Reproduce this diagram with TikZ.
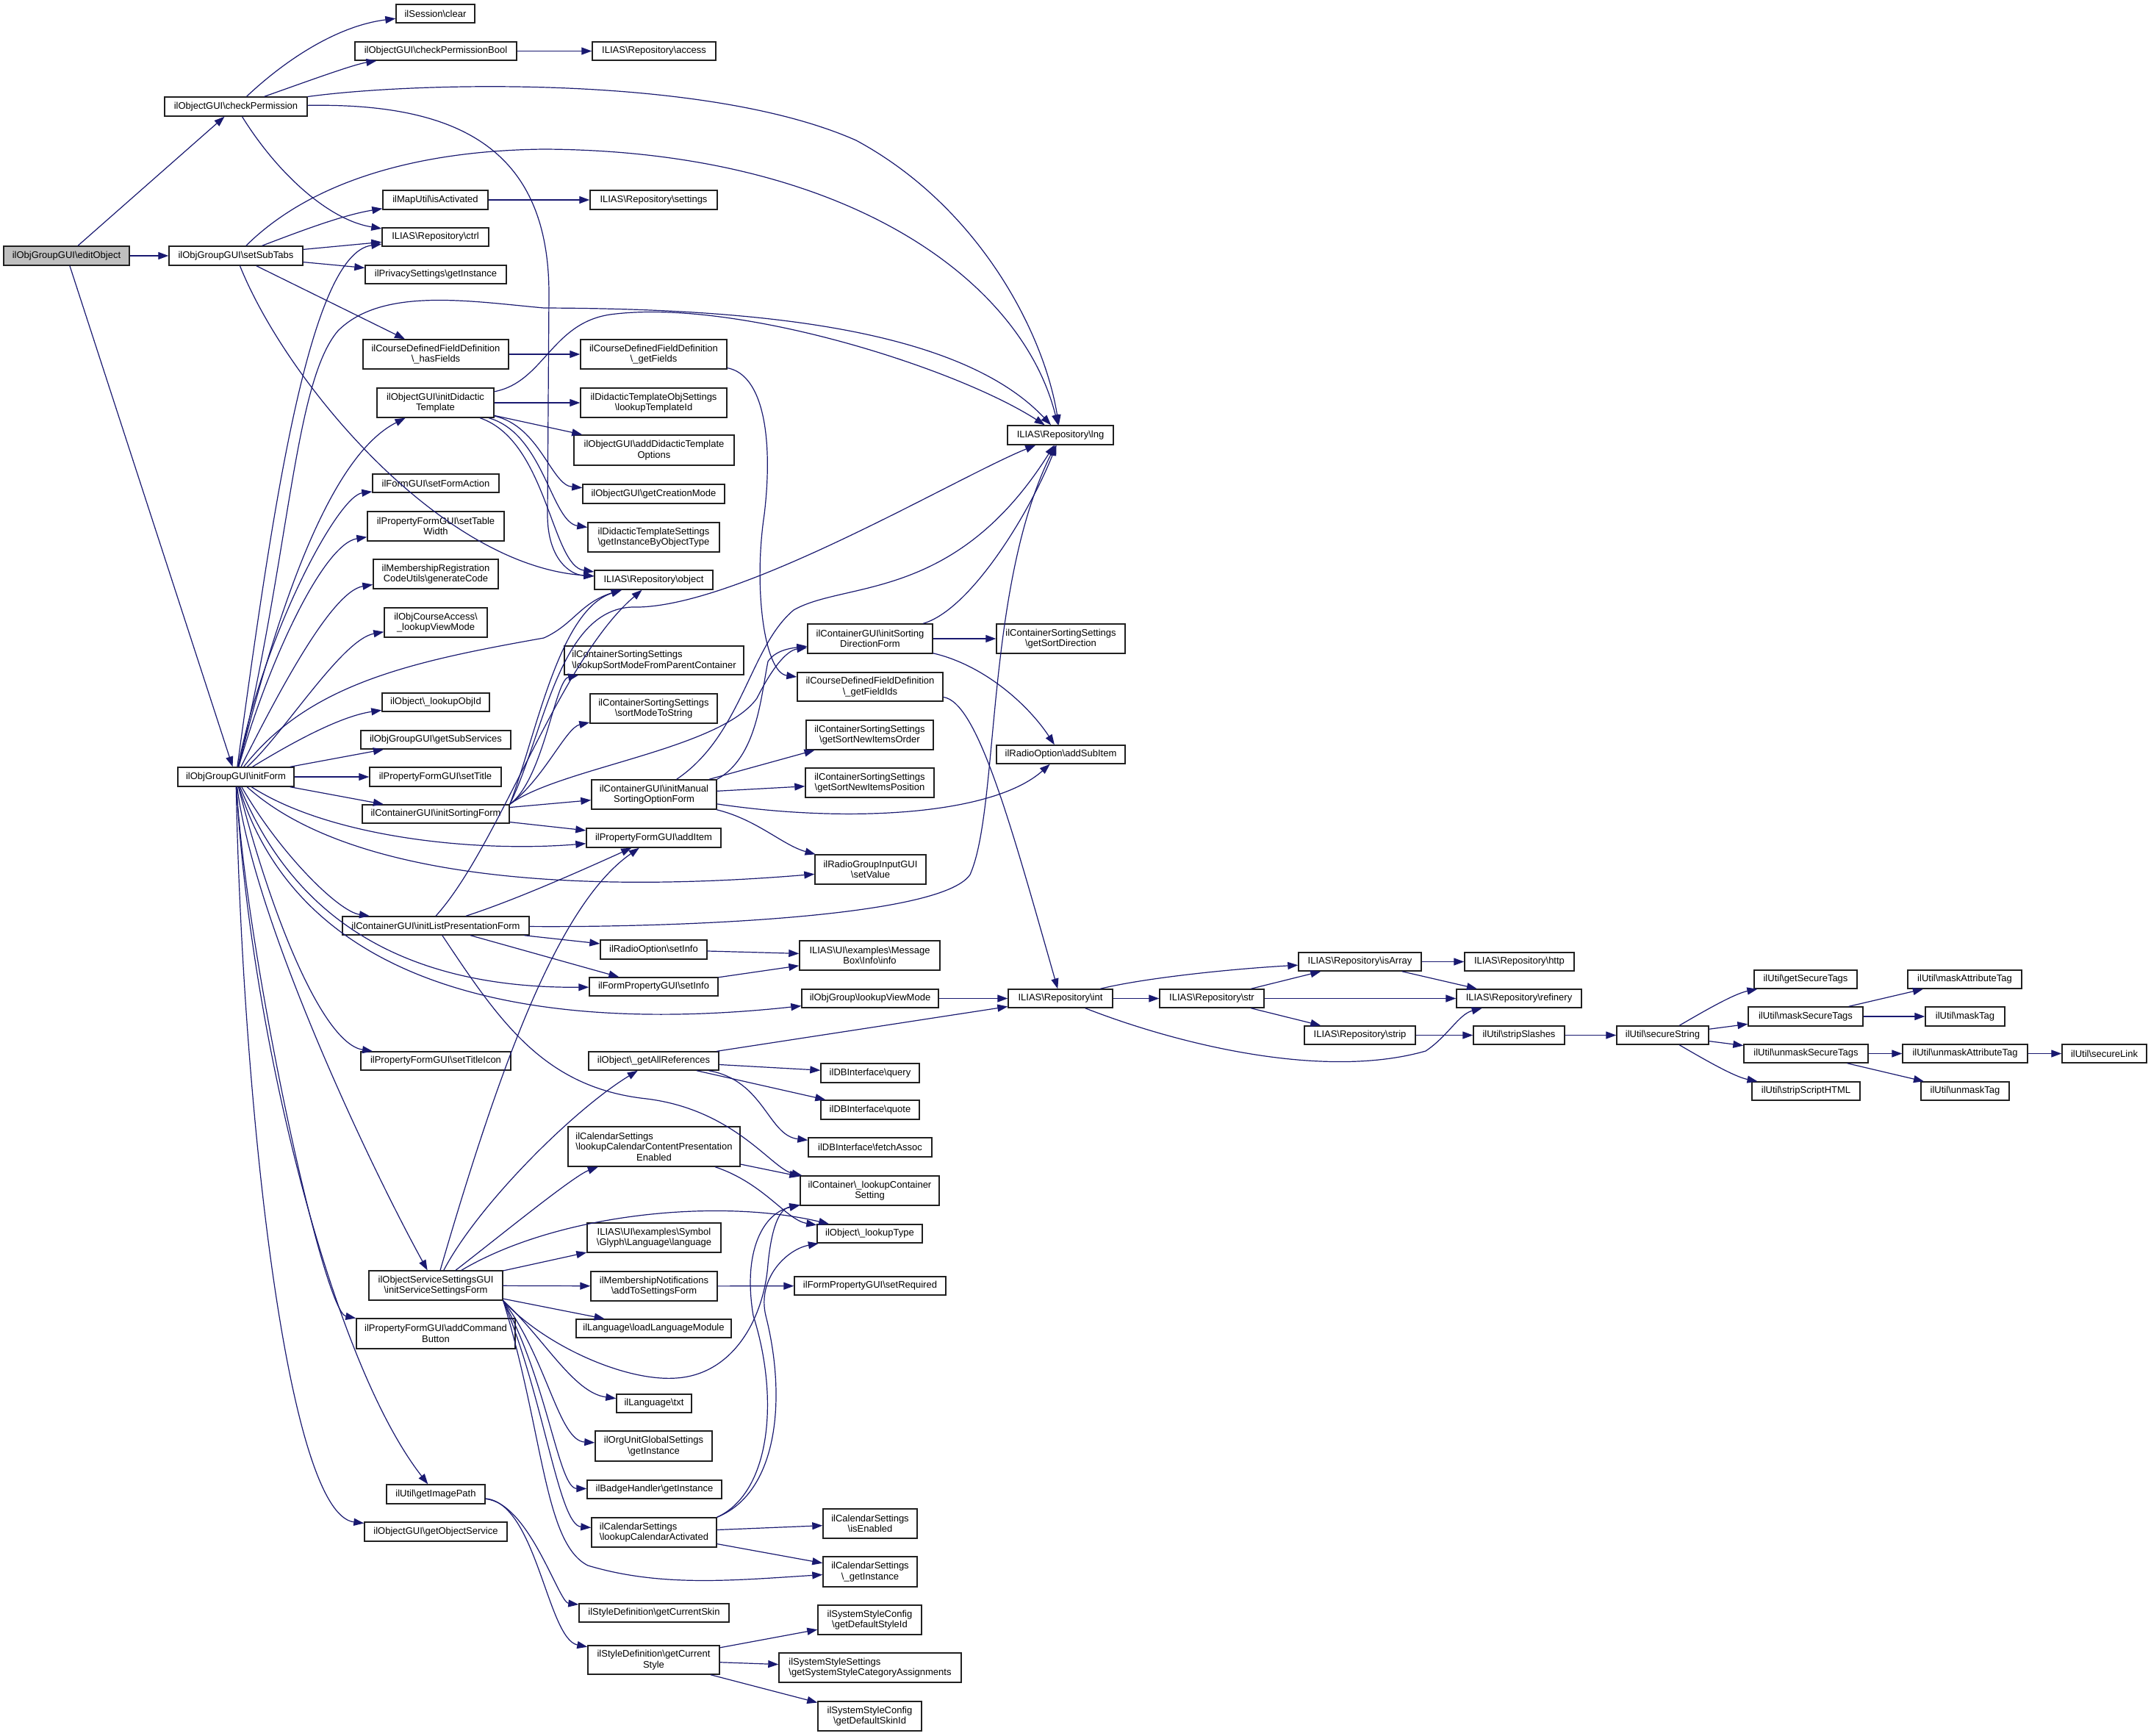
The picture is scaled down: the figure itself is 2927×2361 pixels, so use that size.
\documentclass[tikz,border=0pt]{standalone}
\usepackage{fontspec}
\usepackage{calc}
\setmainfont{Liberation Sans}
\usetikzlibrary{arrows.meta}
\definecolor{edgecol}{HTML}{191970}
\definecolor{rootfill}{HTML}{BFBFBF}
\definecolor{boxline}{HTML}{202020}
\newcommand\bs{\textbackslash}
\tikzset{
  box/.style={draw=boxline, line width=0.7pt, fill=white, rectangle, inner sep=0pt, align=center,
    font=\fontsize{6.5}{7.3}\selectfont},
  e/.style={draw=edgecol, line width=0.6pt, -{Triangle[length=7pt,width=5pt]}}
}
\newcommand\bx[7][]{\node[box,#1,minimum width={(#5-#3)*0.5pt},minimum height={(#6-#4)*0.5pt}] (#2) at ({(#3+#5)/2},{(#4+#6)/2}) {#7};}
\begin{document}
\begin{tikzpicture}[x=0.5pt,y=-0.5pt]
\fill[white] (0,0) rectangle (2927,2361);
\useasboundingbox (0,0) rectangle (2927,2361);
% column 1-2
\bx[fill=rootfill]{edit}{5}{335}{176}{361}{ilObjGroupGUI\bs editObject}
\bx{chkPerm}{224}{132}{418}{158}{ilObjectGUI\bs checkPermission}
\bx{setSub}{230}{335}{412}{361}{ilObjGroupGUI\bs setSubTabs}
\bx{initForm}{242}{1044}{400}{1070}{ilObjGroupGUI\bs initForm}
\bx{clear}{539}{6}{646}{31}{ilSession\bs clear}
\bx{chkBool}{483}{57}{703}{82}{ilObjectGUI\bs checkPermissionBool}
\bx{isAct}{521}{259}{664}{285}{ilMapUtil\bs isActivated}
\bx{ctrl}{520}{310}{665}{335}{ILIAS\bs Repository\bs ctrl}
\bx{privacy}{497}{361}{689}{386}{ilPrivacySettings\bs getInstance}
\bx{hasFields}{494}{462}{692}{502}{ilCourseDefinedFieldDefinition\\\bs\_hasFields}
\bx{initDid}{513}{528}{672}{568}{ilObjectGUI\bs initDidactic\\Template}
\bx{setFormAction}{507}{645}{679}{670}{ilFormGUI\bs setFormAction}
\bx{setTableWidth}{500}{696}{686}{736}{ilPropertyFormGUI\bs setTable\\Width}
\bx{genCode}{508}{761}{678}{801}{ilMembershipRegistration\\CodeUtils\bs generateCode}
\bx{crsView}{523}{827}{663}{867}{ilObjCourseAccess\bs\\\_lookupViewMode}
\bx{lookupObjId}{520}{943}{666}{968}{ilObject\bs\_lookupObjId}
\bx{subServices}{491}{994}{695}{1019}{ilObjGroupGUI\bs getSubServices}
\bx{setTitle}{503}{1044}{682}{1070}{ilPropertyFormGUI\bs setTitle}
\bx{initSorting}{493}{1095}{693}{1120}{ilContainerGUI\bs initSortingForm}
\bx{initList}{466}{1247}{720}{1272}{ilContainerGUI\bs initListPresentationForm}
\bx{setTitleIcon}{491}{1431}{695}{1456}{ilPropertyFormGUI\bs setTitleIcon}
\bx{initService}{502}{1729}{684}{1769}{ilObjectServiceSettingsGUI\\\bs initServiceSettingsForm}
\bx{addCmd}{485}{1794}{701}{1835}{ilPropertyFormGUI\bs addCommand\\Button}
\bx{imgPath}{526}{2020}{660}{2046}{ilUtil\bs getImagePath}
\bx{objService}{496}{2071}{690}{2097}{ilObjectGUI\bs getObjectService}
% column 3
\bx{access}{806}{57}{974}{82}{ILIAS\bs Repository\bs access}
\bx{settings}{803}{259}{976}{285}{ILIAS\bs Repository\bs settings}
\bx{getFields}{790}{462}{989}{502}{ilCourseDefinedFieldDefinition\\\bs\_getFields}
\bx{tplId}{790}{528}{989}{568}{ilDidacticTemplateObjSettings\\\bs lookupTemplateId}
\bx{didOpts}{781}{592}{999}{633}{ilObjectGUI\bs addDidacticTemplate\\Options}
\bx{creationMode}{793}{659}{986}{685}{ilObjectGUI\bs getCreationMode}
\bx{instByType}{800}{711}{979}{751}{ilDidacticTemplateSettings\\\bs getInstanceByObjectType}
\bx{object}{809}{776}{970}{802}{ILIAS\bs Repository\bs object}
\bx[align=left]{sortModeParent}{768}{879}{1012}{918}{ilContainerSortingSettings\\\bs lookupSortModeFromParentContainer}
\bx{sortModeStr}{803}{944}{976}{984}{ilContainerSortingSettings\\\bs sortModeToString}
\bx{initManual}{805}{1061}{975}{1101}{ilContainerGUI\bs initManual\\SortingOptionForm}
\bx{addItem}{798}{1127}{981}{1153}{ilPropertyFormGUI\bs addItem}
\bx{radioInfo}{817}{1279}{962}{1305}{ilRadioOption\bs setInfo}
\bx{formInfo}{802}{1330}{977}{1355}{ilFormPropertyGUI\bs setInfo}
\bx{allRefs}{801}{1431}{978}{1456}{ilObject\bs\_getAllReferences}
\bx{calContent}{773}{1533}{1007}{1587}{\makebox[\widthof{\bs lookupCalendarContentPresentation}][l]{ilCalendarSettings}\\\bs lookupCalendarContentPresentation\\Enabled}
\bx{language}{799}{1664}{981}{1704}{ILIAS\bs UI\bs examples\bs Symbol\\\bs Glyph\bs Language\bs language}
\bx{addToSettings}{804}{1730}{976}{1770}{ilMembershipNotifications\\\bs addToSettingsForm}
\bx{loadLang}{784}{1795}{995}{1820}{ilLanguage\bs loadLanguageModule}
\bx{txt}{839}{1897}{941}{1922}{ilLanguage\bs txt}
\bx{orgUnit}{810}{1947}{969}{1988}{ilOrgUnitGlobalSettings\\\bs getInstance}
\bx{badge}{799}{2014}{982}{2039}{ilBadgeHandler\bs getInstance}
\bx[align=left]{calActivated}{805}{2065}{975}{2105}{ilCalendarSettings\\\bs lookupCalendarActivated}
\bx{curSkin}{788}{2182}{992}{2207}{ilStyleDefinition\bs getCurrentSkin}
\bx{curStyle}{800}{2239}{979}{2278}{ilStyleDefinition\bs getCurrent\\Style}
% column 4
\bx{sortDirForm}{1099}{849}{1269}{889}{ilContainerGUI\bs initSorting\\DirectionForm}
\bx{fieldIds}{1085}{915}{1283}{954}{ilCourseDefinedFieldDefinition\\\bs\_getFieldIds}
\bx{newOrder}{1097}{980}{1270}{1020}{ilContainerSortingSettings\\\bs getSortNewItemsOrder}
\bx{newPos}{1096}{1045}{1271}{1085}{ilContainerSortingSettings\\\bs getSortNewItemsPosition}
\bx{setValue}{1109}{1163}{1260}{1203}{ilRadioGroupInputGUI\\\bs setValue}
\bx{info}{1088}{1280}{1279}{1320}{ILIAS\bs UI\bs examples\bs Message\\Box\bs Info\bs info}
\bx{grpView}{1091}{1346}{1277}{1371}{ilObjGroup\bs lookupViewMode}
\bx{query}{1117}{1447}{1251}{1473}{ilDBInterface\bs query}
\bx{quote}{1117}{1497}{1251}{1523}{ilDBInterface\bs quote}
\bx{fetch}{1100}{1548}{1268}{1574}{ilDBInterface\bs fetchAssoc}
\bx{contSetting}{1089}{1600}{1278}{1640}{ilContainer\bs\_lookupContainer\\Setting}
\bx{lookupType}{1112}{1666}{1255}{1691}{ilObject\bs\_lookupType}
\bx{setRequired}{1081}{1737}{1287}{1762}{ilFormPropertyGUI\bs setRequired}
\bx{isEnabled}{1120}{2053}{1248}{2093}{ilCalendarSettings\\\bs isEnabled}
\bx{calInst}{1120}{2118}{1248}{2159}{ilCalendarSettings\\\bs\_getInstance}
\bx{styleId}{1113}{2184}{1254}{2224}{ilSystemStyleConfig\\\bs getDefaultStyleId}
\bx[align=left]{catAssign}{1060}{2249}{1308}{2289}{ilSystemStyleSettings\\\bs getSystemStyleCategoryAssignments}
\bx{skinId}{1113}{2315}{1254}{2355}{ilSystemStyleConfig\\\bs getDefaultSkinId}
% column 5+
\bx{lng}{1371}{579}{1515}{605}{ILIAS\bs Repository\bs lng}
\bx{sortDir}{1356}{849}{1531}{889}{ilContainerSortingSettings\\\bs getSortDirection}
\bx{addSubItem}{1356}{1014}{1531}{1039}{ilRadioOption\bs addSubItem}
\bx{int}{1372}{1346}{1514}{1371}{ILIAS\bs Repository\bs int}
\bx{str}{1578}{1346}{1720}{1371}{ILIAS\bs Repository\bs str}
\bx{isArray}{1767}{1296}{1934}{1321}{ILIAS\bs Repository\bs isArray}
\bx{strip}{1775}{1396}{1926}{1421}{ILIAS\bs Repository\bs strip}
\bx{http}{1993}{1296}{2142}{1321}{ILIAS\bs Repository\bs http}
\bx{refinery}{1982}{1346}{2152}{1371}{ILIAS\bs Repository\bs refinery}
\bx{stripSl}{2005}{1396}{2129}{1421}{ilUtil\bs stripSlashes}
\bx{secStr}{2200}{1396}{2325}{1421}{ilUtil\bs secureString}
\bx{getSecTags}{2387}{1320}{2527}{1345}{ilUtil\bs getSecureTags}
\bx{maskSec}{2379}{1370}{2535}{1396}{ilUtil\bs maskSecureTags}
\bx{unmaskSec}{2373}{1421}{2542}{1446}{ilUtil\bs unmaskSecureTags}
\bx{stripScript}{2384}{1472}{2531}{1497}{ilUtil\bs stripScriptHTML}
\bx{maskAttr}{2596}{1320}{2751}{1345}{ilUtil\bs maskAttributeTag}
\bx{maskTag}{2620}{1370}{2728}{1396}{ilUtil\bs maskTag}
\bx{unmaskAttr}{2589}{1421}{2759}{1446}{ilUtil\bs unmaskAttributeTag}
\bx{unmaskTag}{2614}{1472}{2734}{1497}{ilUtil\bs unmaskTag}
\bx{secLink}{2806}{1421}{2921}{1446}{ilUtil\bs secureLink}

% ---------------- edges ----------------
\draw[e] (edit) -- (chkPerm);
\draw[e] (edit) -- (setSub);
\draw[e] (edit) -- (initForm);
% checkPermission
\draw[e] (chkPerm) .. controls (390,80) and (460,35) .. (clear);
\draw[e] (chkPerm) .. controls (420,110) and (480,88) .. (chkBool);
\draw[e] (chkPerm) .. controls (560,112) and (960,100) .. (1165,191) .. controls (1330,280) and (1420,450) .. (lng);
\draw[e] (chkPerm) .. controls (620,140) and (747,200) .. (747,400) -- (745,700) .. controls (745,760) and (775,782) .. (object);
\draw[e] (chkPerm) .. controls (380,240) and (450,300) .. (ctrl);
\draw[e] (chkBool) -- (access);
% setSubTabs
\draw[e] (setSub) .. controls (420,250) and (560,205) .. (740,203) .. controls (1150,205) and (1390,380) .. (lng);
\draw[e] (setSub) .. controls (420,310) and (470,292) .. (isAct);
\draw[e] (setSub) -- (ctrl);
\draw[e] (setSub) -- (privacy);
\draw[e] (setSub) -- (hasFields);
\draw[e] (setSub) .. controls (390,520) and (600,770) .. (object);
\draw[e] (isAct) -- (settings);
\draw[e] (hasFields) -- (getFields);
\draw[e] (getFields) .. controls (1040,510) and (1052,600) .. (1040,700) .. controls (1025,800) and (1040,915) .. (fieldIds);
\draw[e] (fieldIds) .. controls (1330,955) and (1375,1120) .. (int);
% initDidacticTemplate
\draw[e] (initDid) .. controls (740,520) and (750,440) .. (830,428) .. controls (1000,405) and (1300,500) .. (lng);
\draw[e] (initDid) -- (tplId);
\draw[e] (initDid) -- (didOpts);
\draw[e] (initDid) .. controls (735,580) and (750,660) .. (creationMode);
\draw[e] (initDid) .. controls (740,590) and (750,710) .. (instByType);
\draw[e] (initDid) .. controls (745,600) and (750,770) .. (object);
% initForm
\draw[e] (initForm) .. controls (380,820) and (450,620) .. (initDid);
\draw[e] (initForm) .. controls (370,700) and (420,345) .. (ctrl);
\draw[e] (initForm) .. controls (395,750) and (400,520) .. (460,450) .. controls (520,390) and (640,410) .. (740,419) .. controls (1000,420) and (1300,440) .. (lng);
\draw[e] (initForm) .. controls (360,860) and (460,675) .. (setFormAction);
\draw[e] (initForm) .. controls (365,900) and (440,740) .. (setTableWidth);
\draw[e] (initForm) .. controls (375,950) and (450,805) .. (genCode);
\draw[e] (initForm) .. controls (385,1000) and (465,870) .. (crsView);
\draw[e] (initForm) .. controls (390,1015) and (460,975) .. (lookupObjId);
\draw[e] (initForm) -- (subServices);
\draw[e] (initForm) -- (setTitle);
\draw[e] (initForm) -- (initSorting);
\draw[e] (initForm) .. controls (450,1140) and (650,1160) .. (addItem);
\draw[e] (initForm) .. controls (380,1160) and (460,1240) .. (initList);
\draw[e] (initForm) .. controls (480,1200) and (800,1215) .. (setValue);
\draw[e] (initForm) .. controls (400,1250) and (550,1345) .. (formInfo);
\draw[e] (initForm) .. controls (420,1380) and (800,1400) .. (grpView);
\draw[e] (initForm) .. controls (370,1250) and (440,1420) .. (setTitleIcon);
\draw[e] (initForm) .. controls (345,1250) and (500,1580) .. (initService);
\draw[e] (initForm) .. controls (335,1300) and (440,1785) .. (addCmd);
\draw[e] (initForm) .. controls (340,1400) and (450,1850) .. (imgPath);
\draw[e] (initForm) .. controls (330,1500) and (390,2060) .. (objService);
\draw[e] (initForm) .. controls (420,930) and (560,900) .. (740,868) .. controls (780,850) and (790,820) .. (object);
% initSortingForm
\draw[e] (initSorting) -- (initManual);
\draw[e] (initSorting) -- (addItem);
\draw[e] (initSorting.north east) .. controls (740,1060) and (755,925) .. (sortModeParent);
\draw[e] (initSorting.north east) .. controls (740,1060) and (770,990) .. (sortModeStr);
\draw[e] (initSorting.north east) .. controls (760,1045) and (980,1020) .. (1030,950) .. controls (1050,910) and (1070,885) .. (sortDirForm);
\draw[e] (initSorting.north east) .. controls (740,1000) and (760,830) .. (860,826) .. controls (1000,830) and (1300,650) .. (lng);
\draw[e] (initSorting.north east) .. controls (730,1000) and (760,830) .. (object);
% initManual
\draw[e] (initManual) -- (newOrder);
\draw[e] (initManual) -- (newPos);
\draw[e] (initManual) .. controls (1150,1120) and (1350,1110) .. (addSubItem);
\draw[e] (initManual) .. controls (1030,1115) and (1065,1150) .. (setValue);
\draw[e] (initManual.north east) .. controls (1030,1030) and (1035,950) .. (1045,900) .. controls (1055,885) and (1075,882) .. (sortDirForm);
\draw[e] (initManual) .. controls (1010,1000) and (1020,880) .. (1080,830) .. controls (1150,790) and (1300,820) .. (lng);
% sortDirForm
\draw[e] (sortDirForm) .. controls (1320,830) and (1400,700) .. (lng);
\draw[e] (sortDirForm) -- (sortDir);
\draw[e] (sortDirForm) .. controls (1340,905) and (1400,960) .. (addSubItem);
% initListPresentationForm
\draw[e] (initList) .. controls (900,1262) and (1280,1250) .. (1320,1190) .. controls (1360,1100) and (1340,800) .. (lng);
\draw[e] (initList) -- (radioInfo);
\draw[e] (initList) -- (formInfo);
\draw[e] (initList) .. controls (700,1225) and (790,1185) .. (addItem);
\draw[e] (initList) .. controls (680,1390) and (740,1480) .. (880,1495) .. controls (1000,1510) and (1050,1590) .. (contSetting);
\draw[e] (initList.north) .. controls (680,1150) and (760,900) .. (object);
% initServiceSettingsForm
\draw[e] (initService) .. controls (680,1450) and (760,1230) .. (addItem);
\draw[e] (initService) .. controls (650,1640) and (780,1510) .. (allRefs);
\draw[e] (initService) .. controls (670,1690) and (780,1600) .. (calContent);
\draw[e] (initService) .. controls (760,1650) and (980,1630) .. (lookupType);
\draw[e] (initService) -- (language);
\draw[e] (initService) -- (addToSettings);
\draw[e] (initService) -- (loadLang);
\draw[e] (initService.south east) .. controls (740,1820) and (780,1895) .. (txt);
\draw[e] (initService.south east) .. controls (745,1850) and (760,1960) .. (orgUnit);
\draw[e] (initService.south east) .. controls (745,1880) and (760,2025) .. (badge);
\draw[e] (initService.south east) .. controls (740,1900) and (760,2075) .. (calActivated);
\draw[e] (initService.south east) .. controls (740,1950) and (740,2100) .. (800,2130) .. controls (900,2160) and (1000,2150) .. (calInst);
\draw[e] (initService.south east) .. controls (740,1830) and (850,1880) .. (920,1875) .. controls (1000,1870) and (1040,1790) .. (1045,1720) .. controls (1050,1670) and (1060,1645) .. (contSetting);
% others
\draw[e] (calContent) -- (contSetting);
\draw[e] (calContent) .. controls (1040,1610) and (1070,1660) .. (lookupType);
\draw[e] (allRefs) -- (int);
\draw[e] (allRefs) -- (query);
\draw[e] (allRefs) -- (quote);
\draw[e] (allRefs) .. controls (1040,1470) and (1045,1545) .. (fetch);
\draw[e] (addToSettings) -- (setRequired);
\draw[e] (calActivated) -- (isEnabled);
\draw[e] (calActivated) -- (calInst);
\draw[e] (calActivated.north east) .. controls (1050,2030) and (1060,1900) .. (1025,1790) .. controls (1010,1700) and (1040,1650) .. (contSetting);
\draw[e] (calActivated.north east) .. controls (1060,2030) and (1070,1900) .. (1042,1790) .. controls (1030,1740) and (1070,1700) .. (lookupType);
\draw[e] (imgPath) .. controls (720,2045) and (760,2180) .. (curSkin);
\draw[e] (imgPath) .. controls (730,2045) and (745,2230) .. (curStyle);
\draw[e] (curStyle) -- (styleId);
\draw[e] (curStyle) -- (catAssign);
\draw[e] (curStyle) -- (skinId);
\draw[e] (grpView) -- (int);
\draw[e] (radioInfo) -- (info);
\draw[e] (formInfo) -- (info);
% repository / util chain
\draw[e] (int) .. controls (1560,1330) and (1680,1318) .. (isArray);
\draw[e] (int) -- (str);
\draw[e] (int) .. controls (1600,1420) and (1800,1470) .. (1940,1430) .. controls (1970,1410) and (1985,1380) .. (refinery);
\draw[e] (str) -- (isArray);
\draw[e] (str) -- (refinery);
\draw[e] (str) -- (strip);
\draw[e] (isArray) -- (http);
\draw[e] (isArray) -- (refinery);
\draw[e] (strip) -- (stripSl);
\draw[e] (stripSl) -- (secStr);
\draw[e] (secStr) .. controls (2320,1375) and (2360,1352) .. (getSecTags);
\draw[e] (secStr) -- (maskSec);
\draw[e] (secStr) -- (unmaskSec);
\draw[e] (secStr) .. controls (2320,1442) and (2360,1465) .. (stripScript);
\draw[e] (maskSec) -- (maskAttr);
\draw[e] (maskSec) -- (maskTag);
\draw[e] (unmaskSec) -- (unmaskAttr);
\draw[e] (unmaskSec) -- (unmaskTag);
\draw[e] (unmaskAttr) -- (secLink);
\end{tikzpicture}
\end{document}
